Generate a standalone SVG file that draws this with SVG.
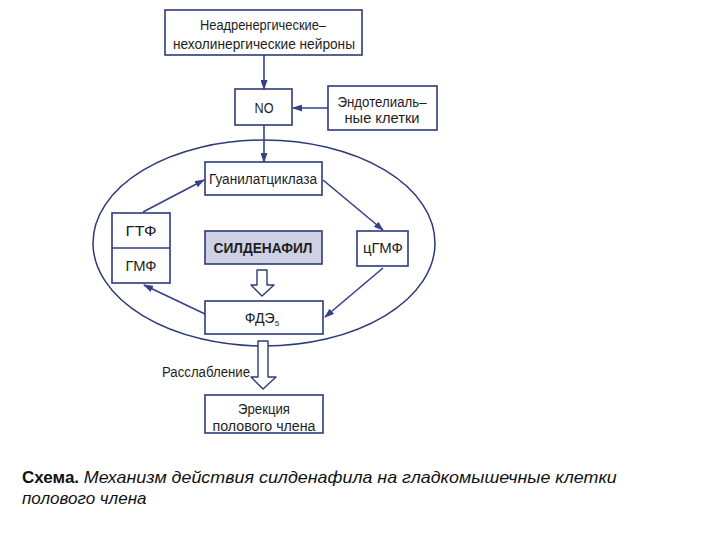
<svg xmlns="http://www.w3.org/2000/svg" width="720" height="540" viewBox="0 0 720 540">
<style>
.box{fill:#ffffff;stroke:#2e3a78;stroke-width:1.6}
.fill{fill:#cdd1e3}
.t{font-family:"Liberation Sans",Arial,sans-serif;font-size:14px;fill:#1e1e1e;text-anchor:middle}
.b{font-weight:bold}
.ln{stroke:#34418a;stroke-width:1.6;fill:none}
.hol{fill:#ffffff;stroke:#2e3a78;stroke-width:1.4;stroke-linejoin:round}
.cap{font-family:"Liberation Sans",Arial,sans-serif;font-size:17px;fill:#111}
</style>
<defs>
<marker id="ah" viewBox="0 0 10 10" refX="9" refY="5" markerWidth="10" markerHeight="7" markerUnits="userSpaceOnUse" orient="auto" preserveAspectRatio="none">
<path d="M0,0 L10,5 L0,10 Z" fill="#34418a"/>
</marker>
</defs>
<rect width="720" height="540" fill="#ffffff"/>
<ellipse id="cell" cx="264" cy="243" rx="171" ry="103" fill="none" stroke="#2e3a78" stroke-width="1.5"/>
<g id="connectors">
<line class="ln" x1="264" y1="55" x2="264" y2="89" marker-end="url(#ah)"/>
<line class="ln" x1="328" y1="108" x2="293" y2="108" marker-end="url(#ah)"/>
<line class="ln" x1="264" y1="125" x2="264" y2="162" marker-end="url(#ah)"/>
<line class="ln" x1="323" y1="180" x2="383" y2="230" marker-end="url(#ah)"/>
<line class="ln" x1="383" y1="268" x2="325" y2="317" marker-end="url(#ah)"/>
<line class="ln" x1="205" y1="314" x2="144" y2="285" marker-end="url(#ah)"/>
<line class="ln" x1="143" y1="212" x2="204" y2="180" marker-end="url(#ah)"/>
<path class="hol" d="M257,270 L267,270 L267,285 L274,285 L262,296 L251,285 L257,285 Z"/>
<path class="hol" d="M258,341 L268,341 L268,377 L276,377 L263,389 L251,377 L258,377 Z"/>
</g>
<g id="n_neurons">
<rect class="box" x="165" y="10" width="197" height="45"/>
<text class="t" x="263" y="30" textLength="126" lengthAdjust="spacingAndGlyphs">Неадренергические–</text>
<text class="t" x="264" y="49" textLength="182" lengthAdjust="spacingAndGlyphs">нехолинергические нейроны</text>
</g>
<g id="n_no">
<rect class="box" x="235" y="89" width="57" height="36"/>
<text class="t" x="264" y="113" textLength="19" lengthAdjust="spacingAndGlyphs">NO</text>
</g>
<g id="n_endo">
<rect class="box" x="328" y="86" width="109" height="44"/>
<text class="t" x="382" y="107" textLength="89" lengthAdjust="spacingAndGlyphs">Эндотелиаль–</text>
<text class="t" x="382" y="123" textLength="75" lengthAdjust="spacingAndGlyphs">ные клетки</text>
</g>
<g id="n_gc">
<rect class="box" x="205" y="162" width="117" height="33"/>
<text class="t" x="263" y="184" textLength="108" lengthAdjust="spacingAndGlyphs">Гуанилатциклаза</text>
</g>
<g id="n_gtf">
<rect class="box" x="112" y="213" width="58" height="70"/>
<line x1="112" y1="248" x2="170" y2="248" stroke="#2e3a78" stroke-width="1.4"/>
<text class="t" x="141" y="236" textLength="31" lengthAdjust="spacingAndGlyphs">ГТФ</text>
<text class="t" x="141" y="271" textLength="31" lengthAdjust="spacingAndGlyphs">ГМФ</text>
</g>
<g id="n_sild">
<rect class="box fill" x="205" y="231" width="117" height="33"/>
<text class="t b" x="263" y="253" textLength="99" lengthAdjust="spacingAndGlyphs">СИЛДЕНАФИЛ</text>
</g>
<g id="n_cgmp">
<rect class="box" x="357" y="231" width="51" height="35"/>
<text class="t" x="383" y="253" textLength="40" lengthAdjust="spacingAndGlyphs">цГМФ</text>
</g>
<g id="n_pde">
<rect class="box" x="205" y="301" width="118" height="33"/>
<text class="t" x="262" y="323"><tspan textLength="30" lengthAdjust="spacingAndGlyphs">ФДЭ</tspan><tspan font-size="8" dy="3">5</tspan></text>
</g>
<text class="t" x="206" y="377" textLength="88" lengthAdjust="spacingAndGlyphs">Расслабление</text>
<g id="n_erect">
<rect class="box" x="205" y="395" width="118" height="38"/>
<text class="t" x="264" y="414" textLength="52" lengthAdjust="spacingAndGlyphs">Эрекция</text>
<text class="t" x="264" y="431" textLength="103" lengthAdjust="spacingAndGlyphs">полового члена</text>
</g>
<text class="cap" x="22" y="483"><tspan font-weight="bold">Схема.</tspan> <tspan font-style="italic" textLength="533" lengthAdjust="spacingAndGlyphs">Механизм действия силденафила на гладкомышечные клетки</tspan></text>
<text class="cap" x="22" y="504" font-style="italic">полового члена</text>
</svg>
